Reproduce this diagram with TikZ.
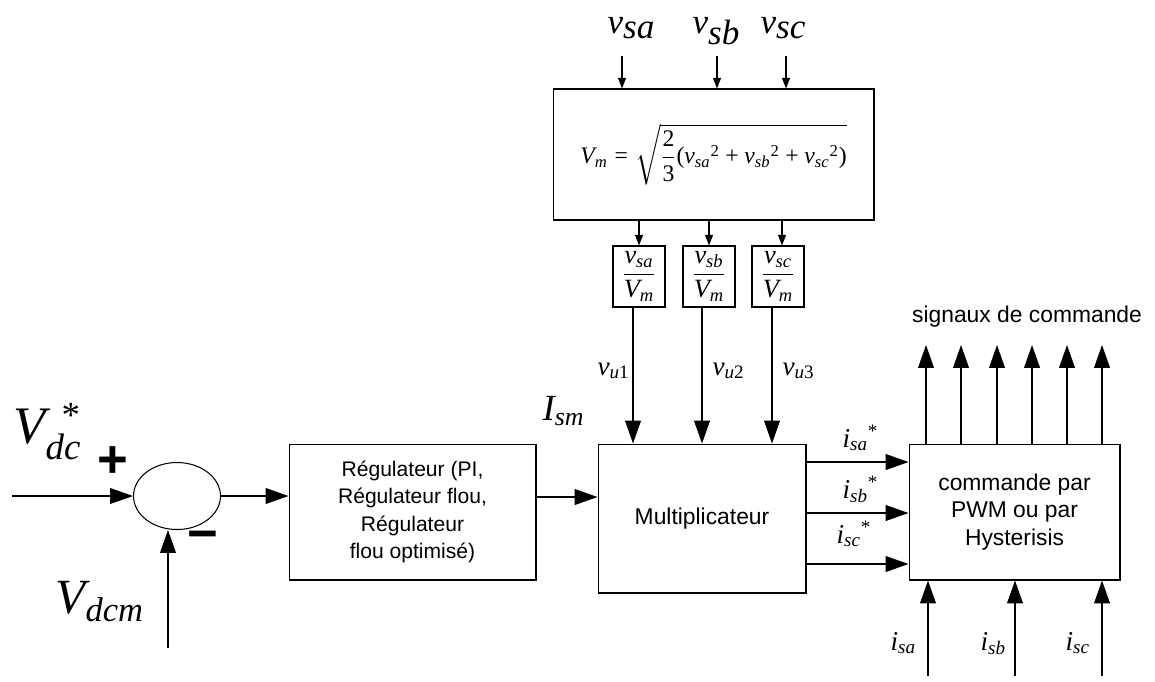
\documentclass[tikz,border=0pt]{standalone}
\usepackage{amsmath}
\usepackage[no-math]{fontspec}
\setmainfont{Liberation Sans}
\newfontfamily\tms{Liberation Serif}[NFSSFamily=lsr]
\DeclareSymbolFont{letters}{TU}{lsr}{m}{it}
\DeclareSymbolFont{operators}{TU}{lsr}{m}{n}
\usetikzlibrary{shapes.geometric,arrows.meta}
\newcommand{\etoile}{\text{\tms *}}

\tikzset{
  bloc/.style={draw, rectangle, inner sep=0pt, align=center},
  fleche/.style={-{Triangle[length=13pt,width=9pt]}},
  petite/.style={-{Triangle[length=6pt,width=4.5pt]}},
  texte/.style={font=\fontsize{13}{15.5}\selectfont},
  signe/.style={font=\fontsize{30}{32}\selectfont\bfseries, inner sep=0pt},
  grand/.style={font=\fontsize{30}{32}\selectfont, inner sep=0pt},
  moyen/.style={font=\fontsize{15.5}{18}\selectfont, inner sep=0pt},
}

\begin{document}
\begin{tikzpicture}[x=0.02cm, y=-0.02cm, line width=0.6pt]
        \useasboundingbox (0,0) rectangle (1155,681);
        % blocs
        \node[draw, ellipse, minimum width=1.74cm, minimum height=1.34cm] (som) at (177,496) {};
        \node[bloc, texte, font=\fontsize{12}{15.5}\selectfont, minimum width=4.94cm, minimum height=2.72cm] (reg) at (412.5,512)
            {Régulateur (PI,\\Régulateur flou,\\Régulateur\\flou optimisé)};
        \node[bloc, texte, minimum width=4.16cm, minimum height=2.98cm] (mult) at (702,518.5) {Multiplicateur};
        \node[bloc, texte, minimum width=4.22cm, minimum height=2.72cm] (cmd) at (1014.5,512)
            {commande par\\PWM ou par\\Hysterisis};
        \node[bloc, minimum width=6.42cm, minimum height=2.62cm, font=\fontsize{13.5}{15}\selectfont] (vm) at (713.5,154.5)
            {$V_m=\sqrt{\dfrac{2}{3}(v_{sa}{}^2+v_{sb}{}^2+v_{sc}{}^2)}$};
        \node[bloc, minimum width=1.04cm, minimum height=1.22cm, font=\fontsize{15}{17}\selectfont] (fa) at (639,276.5) {$\dfrac{v_{sa}}{V_m}$};
        \node[bloc, minimum width=1.04cm, minimum height=1.22cm, font=\fontsize{15}{17}\selectfont] (fb) at (709,276.5) {$\dfrac{v_{sb}}{V_m}$};
        \node[bloc, minimum width=1.04cm, minimum height=1.22cm, font=\fontsize{15}{17}\selectfont] (fc) at (778,276.5) {$\dfrac{v_{sc}}{V_m}$};
        % etiquettes
        \node[grand, anchor=base west] (vdc) at (13,443)
            {$V_{dc}^{\hspace{0.3em}\etoile}$};
        \node[grand, font=\fontsize{28}{30}\selectfont, anchor=base west] (vdcm) at (55,613) {$V_{dcm}$};
        \node[signe] (plus) at (113,462) {+};
        \node[signe] (moins) at (203,541) {−};
        \node[moyen, font=\fontsize{21}{23}\selectfont, anchor=base west] (ism) at (542,420) {$I_{sm}$};
        \node[moyen, font=\fontsize{20}{22}\selectfont, anchor=base west] (vsa) at (607,33) {$v_{\textstyle sa}$};
        \node[moyen, font=\fontsize{20}{22}\selectfont, anchor=base west] (vsb) at (692,33) {$v_{\textstyle sb}$};
        \node[moyen, font=\fontsize{20}{22}\selectfont, anchor=base west] (vsc) at (760,33) {$v_{\textstyle sc}$};
        \node[moyen, anchor=base west] (vu1) at (597,375) {$v_{u1}$};
        \node[moyen, anchor=base west] (vu2) at (712,375) {$v_{u2}$};
        \node[moyen, anchor=base west] (vu3) at (782,375) {$v_{u3}$};
        \node[moyen, anchor=base west] (isar) at (842,447) {$i_{sa}{}^{\etoile}$};
        \node[moyen, anchor=base west] (isbr) at (842,498) {$i_{sb}{}^{\etoile}$};
        \node[moyen, anchor=base west] (iscr) at (836,543) {$i_{sc}{}^{\etoile}$};
        \node[moyen, anchor=base west] (isa) at (890,650) {$i_{sa}$};
        \node[moyen, anchor=base west] (isb) at (980,650) {$i_{sb}$};
        \node[moyen, anchor=base west] (isc) at (1065,650) {$i_{sc}$};
        \node[texte] (sig) at (1027,317) {signaux de commande};
        % liaisons
        \coordinate (ref) at (12,496);
        \coordinate (mes) at (168,648);
        \draw[fleche] (ref) -- (som.west);
        \draw[fleche] (mes) -- (mes |- som.south);
        \draw[fleche] (som.east) -- (reg.west |- som.east);
        \draw[fleche] (reg.east |- 0,497) -- (mult.west |- 0,497);
        \foreach \x/\n in {622/a,717/b,786/c} {
            \coordinate (e\n) at (\x,56);
            \draw[petite] (e\n) -- (e\n |- vm.north);
        }
        \draw[petite] (fa.north |- vm.south) -- (fa.north);
        \draw[petite] (fb.north |- vm.south) -- (fb.north);
        \draw[petite] ([xshift=0.08cm]fc.north |- vm.south) -- ([xshift=0.08cm]fc.north);
        \draw[fleche] ([xshift=-0.12cm]fa.south) -- ([xshift=-0.12cm]fa.south |- mult.north);
        \draw[fleche] ([xshift=-0.14cm]fb.south) -- ([xshift=-0.14cm]fb.south |- mult.north);
        \draw[fleche] ([xshift=-0.12cm]fc.south) -- ([xshift=-0.12cm]fc.south |- mult.north);
        \foreach \y in {462,513,564}
            \draw[fleche] (mult.east |- 0,\y) -- (cmd.west |- 0,\y);
        \foreach \x in {926,961,997,1032,1067,1102}
            \draw[fleche] (cmd.north -| \x,0) -- (\x,345);
        \foreach \x in {928,1015,1102}
            \draw[fleche] (\x,676) -- (cmd.south -| \x,0);
    \end{tikzpicture}
\end{document}
